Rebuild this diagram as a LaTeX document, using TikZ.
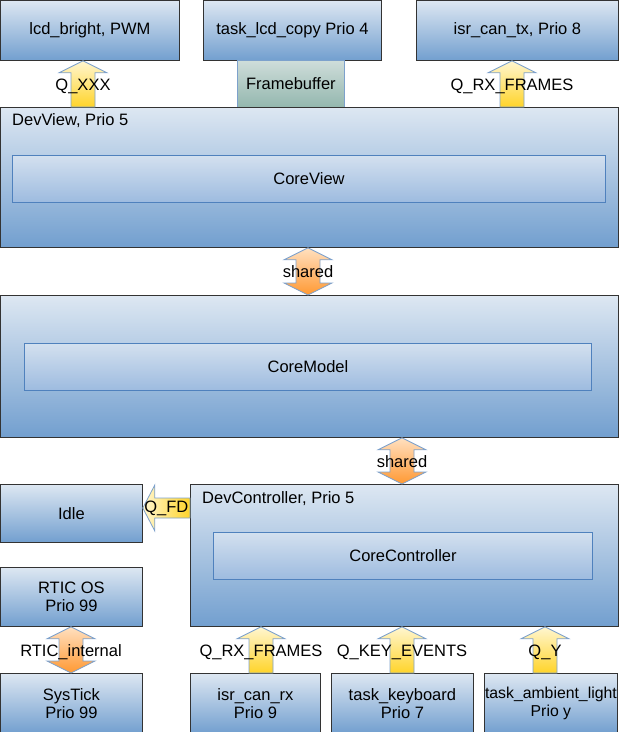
\documentclass[tikz,border=0pt]{standalone}
\usepackage{fontspec}
\setmainfont{Liberation Sans}
\usetikzlibrary{calc}

\definecolor{boxtop}{HTML}{DDE7F2}
\definecolor{boxbot}{HTML}{729FCF}
\definecolor{intop}{HTML}{D3E0EF}
\definecolor{inbot}{HTML}{9DBBDF}
\definecolor{inline}{HTML}{4F81BD}
\definecolor{fbtop}{HTML}{CFDDDA}
\definecolor{fbbot}{HTML}{93B7AE}
\definecolor{qtop}{HTML}{FFF6D0}
\definecolor{qbot}{HTML}{FFD42A}
\definecolor{shtop}{HTML}{FFE0C0}
\definecolor{shbot}{HTML}{FF9933}
\definecolor{arrline}{HTML}{7DA1CC}

\tikzset{
	box/.style={draw=black!80, line width=0.8pt, top color=boxtop, bottom color=boxbot, anchor=north west, inner sep=0pt, align=center},
	inbox/.style={draw=inline, line width=1pt, top color=intop, bottom color=inbot, anchor=north west, inner sep=0pt},
	fbbox/.style={draw=arrline, line width=0.8pt, top color=fbtop, bottom color=fbbot, anchor=north west, inner sep=0pt},
	qarrow/.style={draw=arrline, line width=0.8pt, top color=qtop, bottom color=qbot},
	qleft/.style={draw=arrline, line width=0.8pt, left color=qtop, right color=qbot},
	sharrow/.style={draw=arrline, line width=0.8pt, top color=shtop, bottom color=shbot},
	qlabel/.style={inner sep=0pt, anchor=base, yshift=-6.5pt},
}

% block arrow pointing up: axis, node above, node below, label
\newcommand{\qup}[4]{%
	\draw[qarrow] let \p1=(#1 |- #2.south), \p2=(#1 |- #3.north) in
		(\x1,\y1) -- (\x1+24pt,\y1-12pt) -- (\x1+12pt,\y1-12pt) -- (\x1+12pt,\y2)
		-- (\x1-12pt,\y2) -- (\x1-12pt,\y1-12pt) -- (\x1-24pt,\y1-12pt) -- cycle;
	\node[qlabel] at ($(#1 |- #2.south)!0.5!(#1 |- #3.north)$) {#4};}

% block arrow both ways: axis, node above, node below, label
\newcommand{\qboth}[4]{%
	\draw[sharrow] let \p1=(#1 |- #2.south), \p2=(#1 |- #3.north) in
		(\x1,\y1) -- (\x1+24pt,\y1-12pt) -- (\x1+12pt,\y1-12pt) -- (\x1+12pt,\y2+12pt)
		-- (\x1+24pt,\y2+12pt) -- (\x2,\y2) -- (\x1-24pt,\y2+12pt) -- (\x1-12pt,\y2+12pt)
		-- (\x1-12pt,\y1-12pt) -- (\x1-24pt,\y1-12pt) -- cycle;
	\node[qlabel] at ($(#1 |- #2.south)!0.5!(#1 |- #3.north)$) {#4};}

\begin{document}
\begin{tikzpicture}[x=1pt,y=-1pt,font=\fontsize{16.5pt}{18pt}\selectfont]
	\useasboundingbox (0,0) rectangle (619,732);

	%boxes
	\node[box, minimum width=179, minimum height=60] (lcdbright) at (0,0) {lcd\_bright, PWM};
	\node[box, minimum width=178, minimum height=60] (lcdcopy) at (203,0) {task\_lcd\_copy Prio 4};
	\node[box, minimum width=202, minimum height=60] (cantx) at (416,0) {isr\_can\_tx, Prio 8};
	\node[fbbox, minimum width=107, minimum height=47] (framebuf) at (237,60) {Framebuffer};
	%
	\node[box, minimum width=618, minimum height=140] (devview) at (0,107) {};
	\node[anchor=west, inner sep=0pt] (devviewlbl) at (12,121) {DevView, Prio 5};
	\node[inbox, minimum width=593, minimum height=47] (coreview) at (12,155) {CoreView};
	%
	\node[box, minimum width=618, minimum height=142] (model) at (0,295) {};
	\node[inbox, minimum width=567, minimum height=47] (coremodel) at (24,343) {CoreModel};
	%
	\node[box, minimum width=142, minimum height=58] (idle) at (0,484) {Idle};
	\node[box, minimum width=428, minimum height=142] (devctl) at (190,484) {};
	\node[anchor=west, inner sep=0pt] (devctllbl) at (202,499) {DevController, Prio 5};
	\node[inbox, minimum width=379, minimum height=47] (corectl) at (213,532) {CoreController};
	%
	\node[box, minimum width=142, minimum height=59] (rtic) at (0,567) {RTIC OS\\Prio 99};
	\node[box, minimum width=142, minimum height=60] (systick) at (0,673) {SysTick\\Prio 99};
	\node[box, minimum width=130, minimum height=60] (canrx) at (190,673) {isr\_can\_rx\\Prio 9};
	\node[box, minimum width=142, minimum height=60] (keyboard) at (331,673) {task\_keyboard\\Prio 7};
	\node[box, minimum width=133, minimum height=60, font=\fontsize{15.8pt}{18pt}\selectfont] (ambient) at (484,673) {task\_ambient\_light\\Prio y};

	%arrow axes
	\coordinate (axXXX) at (83,0);
	\coordinate (axRXtop) at (512,0);
	\coordinate (axShA) at (308,0);
	\coordinate (axShB) at (402,0);
	\coordinate (axFD) at (0,508);
	\coordinate (axRtic) at (71,0);
	\coordinate (axRXbot) at (261,0);
	\coordinate (axKey) at (402,0);
	\coordinate (axY) at (545,0);

	%arrows
	\qup{axXXX}{lcdbright}{devview}{Q\_XXX}
	\qup{axRXtop}{cantx}{devview}{Q\_RX\_FRAMES}
	\qboth{axShA}{devview}{model}{shared}
	\qboth{axShB}{model}{devctl}{shared}
	\qboth{axRtic}{rtic}{systick}{RTIC\_internal}
	\qup{axRXbot}{devctl}{canrx}{Q\_RX\_FRAMES}
	\qup{axKey}{devctl}{keyboard}{Q\_KEY\_EVENTS}
	\qup{axY}{devctl}{ambient}{Q\_Y}
	\draw[qleft] let \p1=(idle.east |- axFD), \p2=(devctl.west |- axFD) in
		(\x1,\y1) -- (\x1+12pt,\y1+23pt) -- (\x1+12pt,\y1+10pt) -- (\x2,\y1+10pt)
		-- (\x2,\y1-10pt) -- (\x1+12pt,\y1-10pt) -- (\x1+12pt,\y1-23pt) -- cycle;
	\node[qlabel, yshift=2.5pt] at ($(idle.east |- axFD)!0.5!(devctl.west |- axFD)$) {Q\_FD};
\end{tikzpicture}
\end{document}
